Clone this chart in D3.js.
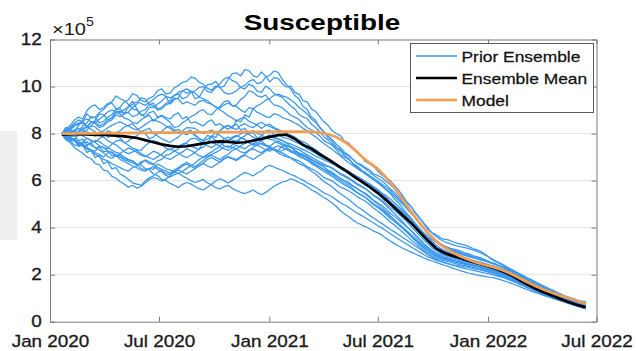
<!DOCTYPE html>
<html>
<head>
<meta charset="utf-8">
<script src="https://cdn.jsdelivr.net/npm/d3@7"></script>
<style>
  body { margin: 0; background: #fff; }
  svg { display: block; }
  text { font-family: "Liberation Sans", Arial, Helvetica, sans-serif; }
</style>
</head>
<body>
<svg id="chart" width="636" height="351"></svg>
<script>
// ---- labels and ticks ----
const chartTitle = "Susceptible";
const legendLabels = ["Prior Ensemble", "Ensemble Mean", "Model"];
const yTicks = [0, 2, 4, 6, 8, 10, 12];                 // in units of 10^5
const yExponent = "5";
const xTickDates = ["2020-01-01", "2020-07-01", "2021-01-01", "2021-07-01", "2022-01-01", "2022-07-01"];

// ---- simulated period: mean/model every two weeks, ensemble members weekly ----
const sampleStart = "2020-01-21";
const sampleEnd = "2022-06-13";
const summaryCount = 64;
const memberCount = 127;

// ---- susceptible population, in thousands ----
const ensembleMean = [
  795,797,798,796,794,795,792,790, 786,781,772,763,754,748,744,746,
  752,758,764,767,765,761,763,770, 778,786,793,795,778,752,736,712,
  690,668,645,620,597,573,547,517, 485,452,420,382,345,312,292,280,
  270,258,248,238,228,214,198,178, 158,140,124,110,96,83,71,62
];
const model = [
  800,800,801,801,801,802,802,802, 803,803,803,804,804,804,805,805,
  805,805,806,806,806,806,807,807, 807,807,808,808,808,808,807,804,
  797,785,765,738,705,675,650,612, 570,520,468,420,377,343,316,294,
  276,262,250,240,231,219,204,186, 168,151,136,123,111,100,88,77
];
const ens01 = [
  800,826,812,808,835,848,826,830,858,884,880,858,866,892,895,884,
  918,938,905,878,884,912,910,926,938,958,925,944,952,984,970,982,
  948,955,985,1008,1010,1022,996,1002,1030,1055,1058,1045,1072,1068,1045,1040,
  1062,1044,1020,1038,1035,1012,998,1002,975,968,940,935,905,894,872,850,
  835,812,800,790,768,760,735,726,705,680,672,660,640,622,612,600,
  580,560,535,508,490,462,440,418,392,378,370,358,350,348,340,334,
  330,326,318,310,305,296,285,270,258,250,240,230,222,212,204,195,
  186,176,168,158,150,142,134,126,118,110,104,98,92,88,84
];
const ens02 = [
  800,818,826,845,858,850,884,866,870,890,902,922,930,905,912,935,
  944,970,962,942,935,950,958,982,990,968,972,995,1004,1018,1022,1040,
  1036,1018,1010,992,985,1002,996,975,968,972,982,998,1005,1022,1030,1012,
  1018,1040,1048,1066,1060,1030,1008,990,962,948,915,902,870,858,825,808,
  780,768,742,725,705,694,672,656,640,636,618,604,592,578,560,545,
  522,505,482,460,440,418,398,378,362,350,338,330,322,314,310,305,
  300,292,288,280,276,270,262,254,248,240,232,222,214,205,196,186,
  178,168,160,150,142,134,126,118,110,102,96,90,85,81,77
];
const ens03 = [
  800,782,790,808,812,832,845,872,868,846,852,870,880,902,905,885,
  892,912,925,952,948,922,930,905,912,928,940,962,968,948,955,975,
  982,996,1000,978,975,995,1012,1032,1040,1025,1018,995,990,1010,1002,980,
  975,1002,990,970,962,954,935,918,905,882,870,864,840,826,808,786,
  772,756,740,733,712,705,690,674,668,655,645,628,622,612,596,582,
  566,548,530,508,488,465,444,420,400,378,362,350,340,334,328,322,
  318,315,310,304,298,290,282,272,262,252,244,234,224,214,205,195,
  186,178,168,160,150,140,132,124,116,108,102,95,90,84,80
];
const ens04 = [
  795,820,835,858,870,862,898,915,922,902,910,928,935,960,948,940,
  925,905,900,882,870,878,852,868,875,862,848,826,830,846,858,872,
  880,895,902,884,880,900,915,935,940,918,922,945,958,982,975,960,
  955,964,940,922,918,910,895,878,870,860,842,826,815,806,790,770,
  760,750,732,710,700,690,672,662,646,630,622,610,598,584,572,558,
  540,522,505,485,465,442,420,398,378,360,342,330,318,308,302,296,
  290,286,280,274,270,264,258,252,246,240,232,224,216,207,198,188,
  178,169,160,151,143,135,127,119,112,105,98,92,86,81,76
];
const ens05 = [
  800,826,818,798,805,822,830,848,852,834,840,858,868,890,882,866,
  860,848,842,858,870,888,895,870,878,868,862,880,888,862,872,845,
  850,840,832,850,858,835,842,828,818,832,840,815,822,798,805,780,
  790,810,815,792,798,784,780,774,765,758,748,736,726,716,706,696,
  688,682,670,658,650,636,628,618,608,596,586,574,562,546,536,522,
  506,490,472,452,434,412,394,374,356,340,325,312,301,292,285,277,
  272,268,262,256,252,246,242,237,232,226,220,212,204,195,186,176,
  167,158,150,142,134,126,119,112,105,98,92,86,80,75,70
];
const ens06 = [
  795,784,808,796,790,808,815,834,828,812,805,785,790,804,812,828,
  835,842,822,808,800,778,785,802,810,825,832,814,818,802,795,806,
  792,778,770,792,785,770,762,748,740,752,758,780,775,760,752,774,
  768,752,745,732,728,748,742,728,722,712,706,698,690,682,672,664,
  660,652,640,626,618,606,596,584,574,564,552,538,528,516,502,486,
  474,458,442,425,406,386,367,348,331,315,302,291,283,277,272,268,
  264,260,255,250,246,241,237,232,227,221,215,207,199,190,181,171,
  162,153,145,137,129,122,115,108,101,94,88,82,76,71,66
];
const ens07 = [
  800,806,785,774,798,790,780,768,765,778,790,812,805,788,782,760,
  768,782,790,808,815,822,800,790,778,770,762,775,785,802,808,815,
  795,780,770,776,788,805,812,826,835,822,818,835,842,830,825,840,
  848,836,830,822,812,806,798,788,775,764,752,740,730,718,706,698,
  690,682,670,660,648,640,628,616,606,596,584,570,558,544,528,510,
  494,478,460,440,420,400,380,360,340,322,308,297,288,281,275,269,
  264,259,254,250,245,240,236,231,226,220,214,206,198,189,180,170,
  160,151,143,135,127,120,113,106,99,92,86,80,74,69,64
];
const ens08 = [
  795,780,772,778,758,765,780,772,762,748,740,736,755,768,772,762,
  750,738,732,728,748,762,770,765,752,738,730,740,745,755,762,778,
  780,770,758,748,740,752,762,778,785,772,768,780,790,805,812,800,
  795,780,775,772,760,752,748,742,730,718,712,704,690,678,668,658,
  645,636,622,608,600,592,578,566,556,546,532,516,505,494,478,460,
  448,432,418,402,388,370,352,334,318,304,292,284,276,270,266,262,
  258,253,248,243,238,233,228,223,218,212,206,198,190,181,172,163,
  154,145,137,129,122,115,108,101,95,88,82,76,70,65,60
];
const ens09 = [
  800,810,822,838,845,852,830,818,808,792,785,770,760,752,738,722,
  715,722,728,715,705,698,690,702,712,728,735,726,718,705,698,708,
  720,735,742,758,765,755,748,760,770,785,792,782,775,762,750,760,
  772,786,795,786,778,772,760,746,738,732,720,710,700,690,680,670,
  662,654,642,630,622,612,600,588,578,566,552,536,524,510,494,476,
  460,442,424,404,386,366,348,330,312,298,287,278,271,265,260,256,
  252,248,244,240,236,231,226,221,216,210,204,196,188,179,170,161,
  152,144,136,128,121,114,107,100,94,87,81,75,69,64,59
];
const ens10 = [
  795,776,780,768,760,748,742,730,725,746,740,728,718,705,700,688,
  682,676,665,672,688,680,670,656,648,640,632,645,655,668,678,666,
  660,672,685,700,708,698,690,702,712,728,735,722,718,730,742,752,
  760,750,745,760,768,758,750,742,728,716,705,696,682,668,658,648,
  635,626,612,600,590,580,565,550,540,528,512,496,485,472,455,438,
  426,410,396,380,364,348,332,316,300,290,280,272,266,261,256,252,
  248,244,240,236,232,227,222,217,212,206,200,192,184,175,166,157,
  148,140,132,125,118,111,104,97,91,85,79,73,67,62,57
];
const ens11 = [
  800,778,768,772,745,750,720,728,698,706,672,680,650,655,628,618,
  605,590,585,580,598,612,620,635,642,630,625,640,648,662,670,660,
  652,662,675,690,698,688,680,694,702,696,690,702,712,728,735,725,
  718,732,740,734,725,718,708,698,690,684,672,660,650,642,628,614,
  606,598,585,572,565,556,545,532,522,512,498,482,470,456,440,424,
  410,395,380,364,348,332,318,304,290,281,272,266,260,255,250,246,
  242,238,234,230,226,222,217,213,208,202,196,189,181,173,164,155,
  146,138,130,123,116,109,102,95,89,83,77,71,65,60,55
];
const ens12 = [
  795,786,770,752,748,758,765,750,742,730,718,702,695,706,712,700,
  690,682,668,652,645,650,660,648,638,622,615,625,632,620,610,600,
  592,598,605,590,582,570,565,574,580,566,558,550,545,552,560,548,
  540,550,562,576,585,594,598,608,602,592,585,574,560,552,540,528,
  518,505,490,472,458,446,432,421,412,404,395,385,378,368,355,342,
  332,322,312,304,296,288,280,272,264,258,252,246,240,234,228,222,
  216,211,206,202,198,195,192,189,186,181,176,170,164,157,150,143,
  136,129,123,117,111,105,100,94,89,84,78,72,66,60,55
];
const ens13 = [
  800,772,762,740,728,716,700,694,672,668,645,640,618,610,595,585,
  572,580,568,575,590,605,612,608,598,606,620,635,645,636,628,640,
  650,665,672,662,655,668,678,692,700,692,685,698,708,698,690,702,
  712,726,735,730,718,708,702,696,685,672,665,654,640,628,612,596,
  585,574,558,544,532,520,505,490,478,466,452,441,428,417,405,392,
  382,370,358,346,335,322,310,298,285,275,266,259,252,246,240,235,
  230,226,222,218,214,210,206,202,198,193,188,182,175,168,160,152,
  144,136,129,122,115,108,102,96,90,84,78,72,66,61,56
];
const ens14 = [
  800,792,785,772,765,752,748,762,770,766,752,742,730,720,715,728,
  738,732,720,708,702,712,725,718,708,696,690,700,712,722,735,728,
  718,706,700,712,722,735,745,736,728,740,750,742,735,748,758,750,
  742,730,725,740,748,740,732,726,715,702,695,686,672,662,650,640,
  628,618,605,592,582,572,560,548,538,528,515,502,490,477,462,446,
  432,417,402,386,370,354,338,322,308,296,286,278,270,265,260,256,
  252,248,244,240,236,232,228,224,220,214,208,200,192,183,174,165,
  156,147,139,131,124,117,110,103,97,90,84,78,72,67,62
];
const ens15 = [
  795,786,775,770,752,756,735,730,718,712,700,718,722,708,705,694,
  688,684,670,666,652,646,628,622,605,600,588,580,570,584,592,586,
  575,566,560,572,585,598,608,600,590,602,612,625,635,628,620,632,
  642,658,665,658,650,644,635,626,620,610,602,590,582,572,560,548,
  540,530,518,506,496,486,474,462,452,442,430,420,408,398,386,374,
  362,351,340,329,318,307,296,286,276,269,262,256,250,246,242,239,
  236,233,230,226,222,218,214,209,204,198,192,185,178,170,162,154,
  146,138,130,123,116,109,102,96,90,84,78,72,66,61,56
];
const ens16 = [
  800,808,815,832,840,855,862,850,848,862,875,892,900,895,888,902,
  912,925,935,928,920,932,945,960,968,958,952,962,975,982,990,980,
  972,955,948,940,925,914,900,890,875,866,852,864,868,852,845,836,
  822,834,840,826,818,810,800,794,785,772,765,756,742,732,718,706,
  695,684,670,656,645,634,620,606,596,586,572,558,548,536,522,506,
  495,480,465,448,432,414,395,376,358,341,325,312,302,295,288,282,
  276,271,266,261,256,251,246,241,236,230,224,216,208,199,190,180,
  170,161,152,144,136,128,121,114,107,100,94,88,82,77,72
];
const ens17 = [
  795,812,805,816,822,815,808,798,790,802,812,825,835,844,850,840,
  832,822,815,826,838,850,860,852,845,832,822,810,800,812,825,824,
  822,810,800,808,815,802,792,780,770,780,788,798,805,795,785,775,
  768,782,790,780,775,770,760,756,748,740,732,724,714,704,696,688,
  680,672,662,652,642,632,620,608,598,588,576,562,550,536,520,504,
  490,474,458,440,420,400,380,360,342,325,310,298,289,282,275,270,
  265,260,255,250,245,240,235,230,225,219,213,205,197,188,179,169,
  160,151,143,135,127,120,113,106,100,93,87,81,75,70,65
];
const ens18 = [
  800,788,780,772,758,748,735,726,712,702,690,684,672,664,655,646,
  640,656,662,680,685,672,668,684,690,708,712,726,735,752,758,745,
  740,732,765,758,790,784,812,830,835,822,858,849,880,870,905,918,
  928,942,950,962,968,960,955,944,930,912,898,884,862,848,828,808,
  790,774,755,740,720,708,690,674,662,650,636,622,610,598,582,564,
  550,531,512,491,470,447,424,402,380,363,346,334,322,314,306,300,
  294,288,282,276,270,264,258,252,246,239,232,224,216,207,198,188,
  178,169,160,151,142,134,126,118,110,103,96,90,84,79,74
];
const ens19 = [
  800,808,790,796,805,818,826,848,842,826,832,850,858,880,872,885,
  890,872,878,895,902,925,918,900,905,922,930,952,948,926,935,928,
  920,936,942,930,925,912,908,922,930,918,915,900,890,910,905,890,
  882,872,868,884,880,868,862,855,845,836,822,812,798,786,772,758,
  745,732,718,705,690,676,664,652,640,628,615,604,590,576,562,548,
  532,516,498,480,460,440,418,398,378,358,340,326,314,305,298,292,
  286,281,276,271,266,261,256,250,245,239,232,224,216,207,198,188,
  178,169,160,152,144,136,128,120,113,106,99,93,87,82,77
];
const ens20 = [
  800,806,786,790,770,776,752,760,738,742,722,726,705,708,690,680,
  672,662,655,644,640,652,648,670,662,650,645,636,630,640,652,662,
  675,690,698,705,712,720,730,744,748,740,735,748,758,766,772,762,
  755,748,740,732,722,728,735,722,715,708,698,688,678,668,658,648,
  640,630,620,610,598,588,576,566,554,542,528,514,500,484,468,450,
  434,416,398,380,362,344,327,312,298,288,279,272,266,262,258,254,
  250,246,242,238,234,229,224,219,214,208,202,194,186,177,168,159,
  150,142,134,126,119,112,106,99,93,87,81,75,69,64,59
];
const priorEnsemble = [ens01, ens02, ens03, ens04, ens05, ens06, ens07, ens08, ens09, ens10,
                       ens11, ens12, ens13, ens14, ens15, ens16, ens17, ens18, ens19, ens20];

// ---- styling ----
const colors = { ensemble: "#3a97ee", mean: "#000000", model: "#f29d52",
                 axis: "#7a7a7a", grid: "#e4e4e4", text: "#1a1a1a" };
const textStretch = 1.18;   // horizontal glyph stretch of the labels

// ---- layout ----
const box = { left: 50, right: 596.5, top: 39.5, bottom: 321.7 };
const svg = d3.select("#chart");
const thousandsPerUnit = 100; // 10^5 people = 100 thousand

const t0 = d3.isoParse(sampleStart), t1 = d3.isoParse(sampleEnd);
const grid = n => d3.range(n).map(i => new Date(+t0 + (t1 - t0) * i / (n - 1)));
const summaryDates = grid(summaryCount);
const memberDates = grid(memberCount);
const xTickValues = xTickDates.map(d3.isoParse);

const x = d3.scaleUtc()
  .domain([xTickValues[0], xTickValues[xTickValues.length - 1]])
  .range([box.left, box.right]);
const y = d3.scaleLinear()
  .domain([yTicks[0], yTicks[yTicks.length - 1]])
  .range([box.bottom, box.top]);

svg.append("rect").attr("width", 636).attr("height", 351).attr("fill", "#fff");
// pale side panel at the left border
svg.append("rect").attr("x", 0).attr("y", 131).attr("width", 17).attr("height", 109).attr("fill", "#efefef");

// horizontal grid
svg.append("g").selectAll("line")
  .data(yTicks.slice(1, -1))
  .join("line")
  .attr("x1", box.left).attr("x2", box.right)
  .attr("y1", d => y(d)).attr("y2", d => y(d))
  .attr("stroke", colors.grid).attr("stroke-width", 1);

svg.append("clipPath").attr("id", "plot-clip")
  .append("rect")
  .attr("x", box.left).attr("y", box.top)
  .attr("width", box.right - box.left).attr("height", box.bottom - box.top);

const lineOn = dates => d3.line()
  .x((d, i) => x(dates[i]))
  .y(d => y(d / thousandsPerUnit));

const plot = svg.append("g").attr("clip-path", "url(#plot-clip)");
plot.append("g").selectAll("path")
  .data(priorEnsemble)
  .join("path")
  .attr("d", lineOn(memberDates))
  .attr("fill", "none")
  .attr("stroke", colors.ensemble)
  .attr("stroke-width", 1.25)
  .attr("stroke-linejoin", "round");
plot.append("path").datum(ensembleMean)
  .attr("d", lineOn(summaryDates)).attr("fill", "none")
  .attr("stroke", colors.mean).attr("stroke-width", 2.7).attr("stroke-linejoin", "round");
plot.append("path").datum(model)
  .attr("d", lineOn(summaryDates)).attr("fill", "none")
  .attr("stroke", colors.model).attr("stroke-width", 2.7).attr("stroke-linejoin", "round");

// ---- axes (box with inward ticks) ----
function styleAxis(g) {
  g.select(".domain").attr("stroke", colors.axis).attr("stroke-width", 1);
  g.selectAll(".tick line").attr("stroke", colors.axis).attr("stroke-width", 1);
  g.selectAll(".tick text")
    .attr("fill", colors.text)
    .attr("stroke", colors.text).attr("stroke-width", 0.3)
    .style("font-size", "16px")
    .attr("transform", `scale(${textStretch},1)`);
}
svg.append("g").attr("transform", `translate(0,${box.bottom})`)
  .call(d3.axisBottom(x).tickValues(xTickValues).tickFormat(d3.utcFormat("%b %Y"))
    .tickSizeInner(-5).tickSizeOuter(0).tickPadding(14))
  .call(styleAxis);
svg.append("g").attr("transform", `translate(0,${box.top})`)
  .call(d3.axisTop(x).tickValues(xTickValues).tickFormat("")
    .tickSizeInner(-5).tickSizeOuter(0))
  .call(styleAxis);
svg.append("g").attr("transform", `translate(${box.left},0)`)
  .call(d3.axisLeft(y).tickValues(yTicks).tickFormat(d3.format("d"))
    .tickSizeInner(-5).tickSizeOuter(0).tickPadding(7))
  .call(styleAxis);
svg.append("g").attr("transform", `translate(${box.right},0)`)
  .call(d3.axisRight(y).tickValues(yTicks).tickFormat("")
    .tickSizeInner(-5).tickSizeOuter(0))
  .call(styleAxis);

// exponent label
const expo = svg.append("text")
  .attr("transform", `translate(52,35) scale(${textStretch},1)`)
  .attr("fill", colors.text).style("font-size", "17px");
expo.append("tspan").text("\u00d710");
expo.append("tspan").attr("dy", -9).style("font-size", "12px").text(yExponent);

// title
svg.append("text")
  .attr("transform", `translate(322,29.5) scale(1.27,1)`)
  .attr("text-anchor", "middle")
  .attr("fill", "#000")
  .style("font-size", "22px").style("font-weight", "bold")
  .text(chartTitle);

// ---- legend ----
const legend = svg.append("g");
legend.append("rect")
  .attr("x", 410.5).attr("y", 43.5).attr("width", 183).attr("height", 69)
  .attr("fill", "#fff").attr("stroke", "#5a5a5a").attr("stroke-width", 1);
const legendItems = [
  { label: legendLabels[0], color: colors.ensemble, width: 1.6 },
  { label: legendLabels[1], color: colors.mean, width: 2.7 },
  { label: legendLabels[2], color: colors.model, width: 2.7 }
];
const rows = legend.selectAll("g.item").data(legendItems).join("g")
  .attr("class", "item")
  .attr("transform", (d, i) => `translate(0,${56 + i * 22})`);
rows.append("line")
  .attr("x1", 416).attr("x2", 457).attr("y1", 0).attr("y2", 0)
  .attr("stroke", d => d.color).attr("stroke-width", d => d.width);
rows.append("text")
  .attr("transform", `translate(461.5,5.5) scale(1.16,1)`)
  .attr("fill", "#111").attr("stroke", "#111").attr("stroke-width", 0.25)
  .style("font-size", "15px")
  .text(d => d.label);
</script>
</body>
</html>
